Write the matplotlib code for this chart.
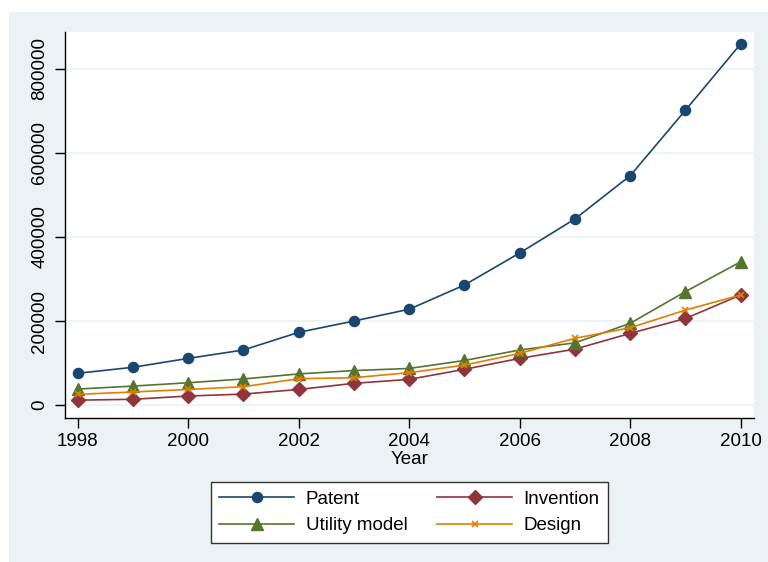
import matplotlib
matplotlib.use("Agg")
import matplotlib.pyplot as plt
from matplotlib.patches import Rectangle

years = [1998, 1999, 2000, 2001, 2002, 2003, 2004, 2005, 2006, 2007, 2008, 2009, 2010]
patent = [75500, 89800, 111000, 131000, 173000, 200000, 228000, 285700, 362000, 443000, 546000, 702000, 860000]
invention = [11500, 13600, 21400, 26000, 37000, 51600, 61000, 85000, 111000, 133000, 170600, 206000, 262000]
utility_model = [38000, 45000, 53000, 62000, 74000, 82000, 87000, 106000, 131000, 148000, 194500, 270000, 341000]
design = [25400, 31000, 37000, 43600, 62600, 65000, 77000, 95000, 123000, 158800, 184000, 226000, 262000]

x_ticks = [1998, 2000, 2002, 2004, 2006, 2008, 2010]
y_ticks = [0, 200000, 400000, 600000, 800000]

plt.rcParams['font.family'] = ['Liberation Sans', 'DejaVu Sans']

W, H = 768, 562
fig = plt.figure(figsize=(W / 100, H / 100), dpi=100)
fig.patch.set_facecolor('white')
bg = Rectangle((9 / W, 0), 1 - 9 / W, 1 - 12 / H, transform=fig.transFigure,
               facecolor='#EAF2F3', edgecolor='none', zorder=-10)
fig.add_artist(bg)

ax = fig.add_axes([65 / W, 1 - 418 / H, (754 - 65) / W, (418 - 32) / H])
ax.set_zorder(1)
ax.set_facecolor('white')

navy = '#1A476F'
maroon = '#90353B'
green = '#55752F'
orange = '#E37E00'

ax.plot(years, patent, color=navy, lw=1.2, marker='o', ms=7.3, label='Patent', zorder=3)
ax.plot(years, invention, color=maroon, lw=1.2, marker='D', ms=6.8, label='Invention', zorder=3)
ax.plot(years, utility_model, color=green, lw=1.2, marker='^', ms=8.5, label='Utility model', zorder=3)
ax.plot(years, design, color=orange, lw=1.2, marker='x', ms=5, mew=1.2, label='Design', zorder=3)

ax.set_xlim(1997.77, 2010.24)
ax.set_ylim(-30952, 888095)
ax.set_xticks(x_ticks)
ax.set_yticks(y_ticks)
ax.set_yticklabels([str(v) for v in y_ticks], rotation=90, va='center')
ax.tick_params(axis='both', labelsize=13.5, length=7, width=1, color='black')
ax.tick_params(axis='y', pad=5)
ax.tick_params(axis='x', pad=4)
ax.grid(axis='y', color='#EAF2F3', lw=1.2)
ax.set_axisbelow(True)
for s in ['top', 'right']:
    ax.spines[s].set_visible(False)
for s in ['left', 'bottom']:
    ax.spines[s].set_linewidth(1)
ax.set_xlabel('Year', fontsize=13.5, labelpad=0.5)

handles, labels = ax.get_legend_handles_labels()
order = [0, 2, 1, 3]
leg = fig.legend([handles[i] for i in order], [labels[i] for i in order],
                 loc='upper center', bbox_to_anchor=(409.5 / W, 1 - 482 / H),
                 ncol=2, fontsize=13.5, frameon=True, fancybox=False,
                 handlelength=4, handletextpad=0.6, columnspacing=1.6,
                 labelspacing=0.5, borderpad=0.45, borderaxespad=0)
leg.set_zorder(5)
leg.get_frame().set_edgecolor('#333333')
leg.get_frame().set_linewidth(1)
leg.get_frame().set_facecolor('white')
leg.get_frame().set_alpha(1)

fig.savefig('out.png', dpi=100)
